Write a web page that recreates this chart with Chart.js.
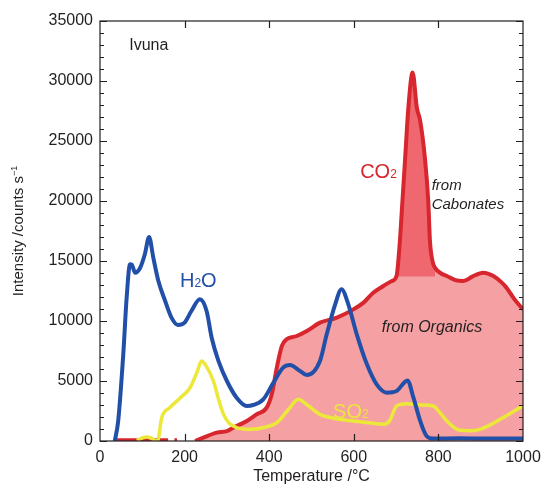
<!DOCTYPE html>
<html>
<head>
<meta charset="utf-8">
<script src="https://cdn.jsdelivr.net/npm/chart.js@4.4.1/dist/chart.umd.min.js"></script>
<style>
  body { margin: 0; background: #fff; }
  #wrap { width: 551px; height: 485px; position: relative; }
</style>
</head>
<body>
<div id="wrap"><canvas id="grafico"></canvas></div>
<script>
// Temperature (°C) and intensity (counts/s)
const h2oTemp   = [35, 43, 55, 63, 71, 75, 83, 95, 106, 116, 126, 138, 154, 169, 184, 200, 216, 236, 252, 264, 280, 300, 323, 347, 362, 386, 410, 433, 449, 473, 489, 520, 536, 556, 571, 587, 607, 631, 654, 678, 701, 727, 741, 757, 772, 788, 850, 920, 1000];
const h2oCounts = [0, 1670, 7220, 11940, 14720, 14700, 14030, 14440, 15560, 17000, 15280, 13330, 11670, 10280, 9670, 9860, 10830, 11810, 10830, 8610, 6670, 5000, 3610, 2920, 3000, 3470, 4860, 6110, 6330, 5830, 5500, 6670, 8890, 11390, 12640, 11390, 8890, 6390, 4720, 4030, 4170, 5050, 3610, 1670, 420, 200, 220, 200, 200];

const so2Temp   = [87, 100, 110, 120, 130, 136, 146, 165, 190, 213, 230, 240, 250, 268, 280, 292, 305, 323, 355, 390, 418, 445, 469, 490, 520, 560, 599, 640, 670, 685, 701, 725, 760, 788, 805, 820, 851, 875, 898, 920, 946, 970, 993, 1000];
const so2Counts = [50, 250, 330, 250, 50, 0, 1950, 2780, 3600, 4440, 5800, 6670, 6300, 5000, 3500, 2220, 1500, 1110, 970, 1150, 1530, 2600, 3470, 3000, 2220, 1850, 1670, 1500, 1390, 1700, 2920, 3110, 3000, 2920, 2300, 1670, 890, 850, 970, 1300, 1810, 2300, 2780, 2900];

// null = gap in the recorded trace
const co2Temp   = [35, 100, 161, 168, 176, 182, 200, 225, 244, 276, 300, 315, 347, 370, 394, 406, 418, 430, 441, 465, 489, 520, 560, 599, 623, 646, 670, 690, 701, 709, 713, 721, 729, 739, 749, 757, 768, 776, 780, 786, 792, 805, 820, 840, 859, 880, 906, 930, 950, 961, 980, 993, 1000];
const co2Counts = [60, 60, 60, null, 60, 60, null, 0, 280, 700, 830, 1110, 1670, 2220, 2780, 3890, 6110, 7920, 8470, 8750, 9170, 9860, 10280, 10970, 11530, 12360, 12920, 13330, 13750, 16670, 18890, 23330, 27780, 30700, 27780, 26670, 23610, 20000, 16670, 15000, 14440, 14000, 13750, 13400, 13330, 13700, 14030, 13750, 13200, 12780, 11800, 11250, 11000];

const carbonateFrom = 701;
const carbonateTo = 792;
const carbonateBase = 13700;

const pares = (xs, ys) => xs.map((x, i) => ({ x: x, y: ys[i] }));

const co2Line = pares(co2Temp, co2Counts);
const co2Fill = co2Line.filter(p => p.x >= 225);
const co2Carbonato = co2Line.filter(p => p.x >= carbonateFrom && p.x <= carbonateTo);

const FONTE = "'Liberation Sans', Arial, Helvetica, sans-serif";
const PRETO = '#231f20';

// Moldura e marcas para dentro (como no original)
const molduraPlugin = {
    id: 'moldura',
    afterDatasetsDraw(chart) {
        const { ctx, chartArea: a, scales: { x, y } } = chart;
        ctx.save();
        ctx.strokeStyle = PRETO;
        ctx.lineWidth = 1.2;
        ctx.strokeRect(a.left, a.top, a.right - a.left, a.bottom - a.top);
        ctx.beginPath();
        for (let v = 0; v <= 35000; v += 1000) {
            const py = Math.round(y.getPixelForValue(v)) + 0.5;
            const len = v % 5000 === 0 ? 7 : 4;
            ctx.moveTo(a.left, py); ctx.lineTo(a.left + len, py);
            ctx.moveTo(a.right, py); ctx.lineTo(a.right - len, py);
        }
        for (let t = 200; t < 1000; t += 200) {
            const px = Math.round(x.getPixelForValue(t)) + 0.5;
            ctx.moveTo(px, a.bottom); ctx.lineTo(px, a.bottom - 7);
            ctx.moveTo(px, a.top); ctx.lineTo(px, a.top + 7);
        }
        ctx.stroke();
        ctx.restore();
    }
};

// texto com subscrito / sobrescrito
function textoPartes(ctx, partes, x, y, tam) {
    let cx = x;
    partes.forEach(([txt, tipo]) => {
        const t = tipo ? Math.round(tam * 0.6) : tam;
        ctx.font = `${t}px ${FONTE}`;
        const dy = tipo === 'sup' ? -tam * 0.42 : 0;
        ctx.fillText(txt, cx, y + dy);
        cx += ctx.measureText(txt).width;
    });
}
function larguraPartes(ctx, partes, tam) {
    let w = 0;
    partes.forEach(([txt, tipo]) => {
        const t = tipo ? Math.round(tam * 0.6) : tam;
        ctx.font = `${t}px ${FONTE}`;
        w += ctx.measureText(txt).width;
    });
    return w;
}

const rotulosPlugin = {
    id: 'rotulos',
    afterDraw(chart) {
        const { ctx, chartArea: a, scales: { x, y } } = chart;
        const px = v => x.getPixelForValue(v);
        const py = v => y.getPixelForValue(v);
        ctx.save();
        ctx.textBaseline = 'alphabetic';
        ctx.textAlign = 'left';

        ctx.fillStyle = PRETO;
        ctx.font = `16px ${FONTE}`;
        ctx.fillText('Ivuna', px(69), py(32560));

        ctx.fillStyle = '#2250a8';
        textoPartes(ctx, [['H'], ['2', 'sub'], ['O']], px(189), py(12830), 20);

        ctx.fillStyle = '#d7262d';
        textoPartes(ctx, [['CO'], ['2', 'sub']], px(615), py(21940), 20);

        ctx.fillStyle = '#ece43f';
        textoPartes(ctx, [['SO'], ['2', 'sub']], px(551), py(1920), 20);

        ctx.fillStyle = PRETO;
        ctx.font = `italic 15px ${FONTE}`;
        ctx.fillText('from', px(784), py(20890));
        ctx.fillText('Cabonates', px(784), py(19330));
        ctx.font = `italic 16px ${FONTE}`;
        ctx.fillText('from Organics', px(666), py(9110));

        // títulos dos eixos
        ctx.font = `16px ${FONTE}`;
        ctx.textAlign = 'center';
        ctx.fillText('Temperature /°C', (a.left + a.right) / 2, 481);

        ctx.textAlign = 'left';
        const partesY = [['Intensity /counts s'], ['\u22121', 'sup']];
        const w = larguraPartes(ctx, partesY, 15);
        ctx.translate(23, (a.top + a.bottom) / 2 + w / 2);
        ctx.rotate(-Math.PI / 2);
        textoPartes(ctx, partesY, 0, 0, 15);
        ctx.restore();
    }
};

const ctx = document.getElementById('grafico').getContext('2d');
const grafico = new Chart(ctx, {
    type: 'line',
    data: {
        datasets: [
            {   // H2O
                data: pares(h2oTemp, h2oCounts),
                borderColor: '#2250a8',
                borderWidth: 4,
                pointRadius: 0,
                fill: false,
                cubicInterpolationMode: 'monotone'
            },
            {   // SO2
                data: pares(so2Temp, so2Counts),
                borderColor: '#ece83a',
                borderWidth: 3.5,
                pointRadius: 0,
                fill: false,
                cubicInterpolationMode: 'monotone'
            },
            {   // CO2 linha
                data: co2Line,
                borderColor: '#d7262d',
                borderWidth: 4,
                pointRadius: 0,
                fill: false,
                spanGaps: false,
                cubicInterpolationMode: 'monotone'
            },
            {   // CO2 de carbonatos
                data: co2Carbonato,
                borderWidth: 0,
                borderColor: 'rgba(0,0,0,0)',
                backgroundColor: '#ef6870',
                pointRadius: 0,
                fill: { value: carbonateBase },
                cubicInterpolationMode: 'monotone'
            },
            {   // CO2 de orgânicos (área)
                data: co2Fill,
                borderWidth: 0,
                borderColor: 'rgba(0,0,0,0)',
                backgroundColor: '#f5a0a3',
                pointRadius: 0,
                fill: 'origin',
                cubicInterpolationMode: 'monotone'
            }
        ]
    },
    options: {
        responsive: true,
        maintainAspectRatio: false,
        animation: false,
        layout: { padding: { left: 0, top: 21, right: 28, bottom: 0 } },
        scales: {
            x: {
                type: 'linear',
                min: 0, max: 1000,
                grid: { display: false, drawTicks: false },
                border: { display: false },
                ticks: { stepSize: 200, color: PRETO, padding: 7, maxRotation: 0, font: { family: FONTE, size: 16 },
                         callback: v => String(v) },
                afterFit: s => { s.height = 44; }
            },
            y: {
                min: 0, max: 35000,
                grid: { display: false, drawTicks: false },
                border: { display: false },
                ticks: { stepSize: 5000, color: PRETO, padding: 7, font: { family: FONTE, size: 16 },
                         callback: v => String(v) },
                afterFit: s => { s.width = 100; }
            }
        },
        plugins: { legend: { display: false }, tooltip: { enabled: false } }
    },
    plugins: [molduraPlugin, rotulosPlugin]
});
</script>
</body>
</html>
